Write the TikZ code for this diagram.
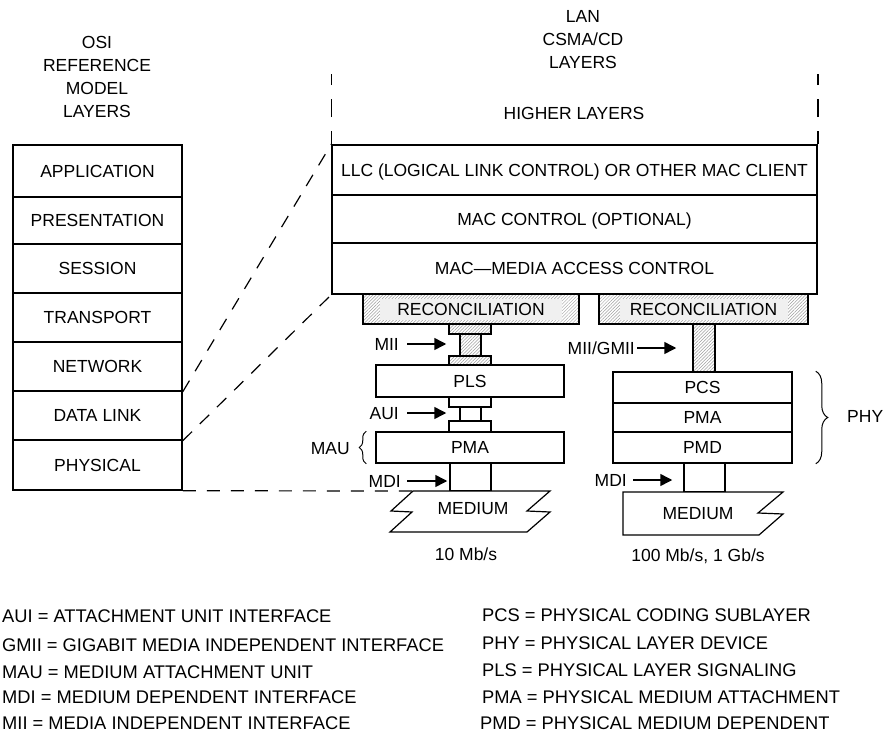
\documentclass[tikz,border=0pt]{standalone}
\usepackage{fontspec}
\setmainfont{Liberation Sans}
\usetikzlibrary{arrows.meta,patterns.meta,decorations.pathreplacing}
\newcommand\lay[7]{\node[#1, minimum width={(#5)-(#3)}, minimum height={(#6)-(#4)}] (#2) at ({((#3)+(#5))/2},{((#4)+(#6))/2}) {#7};}
\begin{document}
\begin{tikzpicture}[x=1pt,y=-1pt,
  every node/.style={font=\fontsize{17.5}{21}\selectfont},
  box/.style={draw, line width=1.5pt, inner sep=0pt, fill=white},
  txt/.style={text height=12.5pt, text depth=0pt},
  hatch/.style={draw, line width=1.5pt, inner sep=0pt, pattern={Lines[angle=45,distance=2.3pt,line width=0.5pt]}, pattern color=gray!75},
  rtxt/.style={inner sep=0pt, fill=black!6, text height=12.5pt, text depth=0pt},
  lbl/.style={inner sep=0pt, text height=12.5pt, text depth=0pt},
  leg/.style={inner sep=0pt, text height=13pt, text depth=0pt, anchor=west, font=\fontsize{18.3}{22}\selectfont},
  arr/.style={line width=1.5pt, -{Triangle[length=12pt,width=12pt]}},
  dconn/.style={line width=1.2pt, dash pattern=on 13pt off 11pt},
  brc/.style={line width=1pt, decorate, decoration={brace, amplitude=#1}},
  vdash/.style={line width=1.5pt}
]
\fill[white] (0,0) rectangle (883,733);
\useasboundingbox (0,0) rectangle (883,733);

% headings
\node[align=center, inner sep=0pt, font=\fontsize{17.5}{23}\selectfont] (osih) at (97,76.5) {OSI\\REFERENCE\\MODEL\\LAYERS};
\node[align=center, inner sep=0pt, font=\fontsize{17.5}{23}\selectfont] (lanh) at (583,40) {LAN\\CSMA/CD\\LAYERS};

% OSI stack
\lay{box,txt}{app}{13}{145}{182}{197}{APPLICATION}
\lay{box,txt}{pres}{13}{197}{182}{244}{PRESENTATION}
\lay{box,txt}{sess}{13}{244}{182}{293}{SESSION}
\lay{box,txt}{trans}{13}{293}{182}{342}{TRANSPORT}
\lay{box,txt}{net}{13}{342}{182}{391}{NETWORK}
\lay{box,txt}{dl}{13}{391}{182}{440}{DATA LINK}
\lay{box,txt}{phys}{13}{440}{182}{490}{PHYSICAL}

% LAN stack
\node[lbl] (hl) at (574,113) {HIGHER LAYERS};
\lay{box,txt}{llc}{332}{145}{817}{195}{LLC (LOGICAL LINK CONTROL) OR OTHER MAC CLIENT}
\lay{box,txt}{macc}{332}{195}{817}{243}{MAC CONTROL (OPTIONAL)}
\lay{box,txt}{mac}{332}{243}{817}{294}{MAC—MEDIA ACCESS CONTROL}
\draw[vdash] (llc.north west) -- ++(0,-13) ++(0,-14) -- ++(0,-18) ++(0,-14) -- ++(0,-11);
\draw[vdash] (llc.north east) -- ++(0,-13) ++(0,-14) -- ++(0,-18) ++(0,-14) -- ++(0,-11);

% reconciliation
\lay{hatch}{recl}{363}{294}{579}{324}{}
\node[rtxt, minimum width=182, minimum height=21] (reclt) at (recl.center) {RECONCILIATION};
\lay{hatch}{recr}{599}{294}{808}{324}{}
\node[rtxt, minimum width=168, minimum height=21] (recrt) at (recr.center) {RECONCILIATION};

% 10 Mb/s column
\lay{hatch}{miia}{449}{324}{491}{334}{}
\lay{hatch}{miib}{460}{334}{481}{356}{}
\lay{hatch}{miic}{449}{356}{491}{365}{}
\lay{box,txt}{pls}{376}{365}{564}{397}{PLS}
\lay{box}{auia}{449}{397}{491}{407}{}
\lay{box}{auib}{460}{407}{481}{421}{}
\lay{box}{auic}{449}{421}{491}{432}{}
\lay{box,txt}{pmal}{376}{432}{564}{463}{PMA}
\lay{box}{mdil}{450}{463}{491}{491}{}
\draw[line width=1.2pt, fill=white] (413,491) coordinate (m1tl) -- (550,491) -- (527,511) -- (550,512) -- (527,532) -- (390,532) -- (412,512) -- (391,511) -- cycle;
\node[lbl] (med1) at (473,508) {MEDIUM};
\node[lbl] (r10) at (466,554) {10 Mb/s};

\node[lbl, anchor=east] (miil) at (399,344) {MII};
\draw[arr] ([xshift=8pt]miil.east) -- ([xshift=-13pt]miib.west |- miil.east);
\node[lbl, anchor=east] (auil) at (399,413) {AUI};
\draw[arr] ([xshift=8pt]auil.east) -- ([xshift=-13pt]auib.west |- auil.east);
\node[lbl, anchor=east] (mdill) at (401,481) {MDI};
\draw[arr] ([xshift=6pt]mdill.east) -- ([xshift=-2pt]mdil.west |- mdill.east);
\node[lbl, anchor=east] (maul) at (350,448) {MAU};
\draw[brc=7pt] ([xshift=-9pt]pmal.south west) -- ([xshift=-9pt]pmal.north west);

% 100 Mb/s, 1 Gb/s column
\lay{hatch}{miir}{693}{324}{715}{372}{}
\lay{box,txt}{pcs}{613}{372}{792}{403}{PCS}
\lay{box,txt}{pmar}{613}{403}{792}{432}{PMA}
\lay{box,txt}{pmd}{613}{432}{792}{463}{PMD}
\lay{box}{mdir}{684}{463}{725}{492}{}
\draw[line width=1.2pt, fill=white] (623,492) -- (783,492) -- (758,513) -- (783,514) -- (759,535) -- (623,535) -- cycle;
\node[lbl] (med2) at (698,513) {MEDIUM};
\node[lbl] (r100) at (698,555) {100 Mb/s, 1 Gb/s};

\node[lbl, anchor=east] (gmiil) at (635,348) {MII/GMII};
\draw[arr] ([xshift=2pt]gmiil.east) -- ([xshift=-16pt]miir.west |- gmiil.east);
\node[lbl, anchor=east] (mdirl) at (627,480) {MDI};
\draw[arr] ([xshift=6pt]mdirl.east) -- ([xshift=-11pt]mdir.west |- mdirl.east);
\draw[brc=12pt] ([xshift=23pt]pcs.north east) -- ([xshift=23pt]pmd.south east);
\node[lbl, anchor=west] (phyl) at (847,416) {PHY};

% mapping lines
\draw[dconn] (net.south east) -- (llc.north west);
\draw[dconn] (dl.south east) -- (mac.south west);
\draw[dconn] (phys.south east) -- (m1tl);

% legend
\node[leg] (l1) at (2,616) {AUI = ATTACHMENT UNIT INTERFACE};
\node[leg] (l2) at (2,645) {GMII = GIGABIT MEDIA INDEPENDENT INTERFACE};
\node[leg] (l3) at (2,672) {MAU = MEDIUM ATTACHMENT UNIT};
\node[leg] (l4) at (2,697) {MDI = MEDIUM DEPENDENT INTERFACE};
\node[leg] (l5) at (2,723) {MII = MEDIA INDEPENDENT INTERFACE};
\node[leg] (r1) at (482,615) {PCS = PHYSICAL CODING SUBLAYER};
\node[leg] (r2) at (482,643) {PHY = PHYSICAL LAYER DEVICE};
\node[leg] (r3) at (482,670) {PLS = PHYSICAL LAYER SIGNALING};
\node[leg] (r4) at (482,697) {PMA = PHYSICAL MEDIUM ATTACHMENT};
\node[leg] (r5) at (480,723) {PMD = PHYSICAL MEDIUM DEPENDENT};
\end{tikzpicture}
\end{document}
